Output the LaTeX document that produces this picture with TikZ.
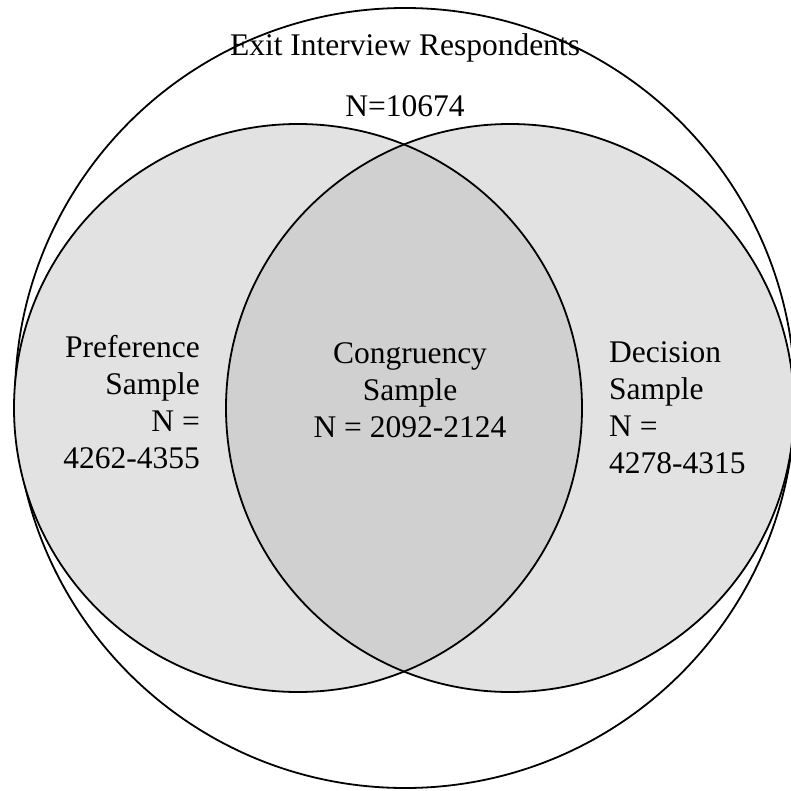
\documentclass[tikz,border=0pt]{standalone}
\usepackage{fontspec}
\setmainfont{Liberation Serif}
\usepackage{xcolor}
\definecolor{samplegray}{RGB}{226, 226, 226}
\definecolor{overlapgray}{RGB}{208, 208, 208}
\usetikzlibrary{positioning}

\begin{document}
\begin{tikzpicture}[x=1pt, y=-1pt,
    ring/.style={draw=black, line width=1.8pt},
    samplelabel/.style={font=\fontsize{31.5}{37}\selectfont, inner sep=0pt}]
    \useasboundingbox (0,0) rectangle (790,791);
    \coordinate (allc) at (405,398);
    \coordinate (prefc) at (298,408);
    \coordinate (decc) at (510,408);
    % respondents and the two samples
    \draw[ring, fill=white] (allc) circle[radius=390];
    \fill[samplegray] (prefc) circle[radius=284];
    \fill[samplegray] (decc) circle[radius=284];
    \begin{scope}
        \clip (prefc) circle[radius=284];
        \fill[overlapgray] (decc) circle[radius=284];
    \end{scope}
    \draw[ring] (prefc) circle[radius=284];
    \draw[ring] (decc) circle[radius=284];
    % labels (base = last line)
    \node[samplelabel, align=center, anchor=base] (exit) at (405,117)
        {Exit Interview Respondents\\[24pt]N=10674};
    \node[samplelabel, align=right, anchor=base east] (pref) at (200,468)
        {Preference\\Sample\\N =\\4262-4355};
    \node[samplelabel, align=center, anchor=base] (cong) at (410,437)
        {Congruency\\Sample\\N = 2092-2124};
    \node[samplelabel, align=left, anchor=base west] (dec) at (609,473)
        {Decision\\Sample\\N =\\4278-4315};
\end{tikzpicture}
\end{document}
